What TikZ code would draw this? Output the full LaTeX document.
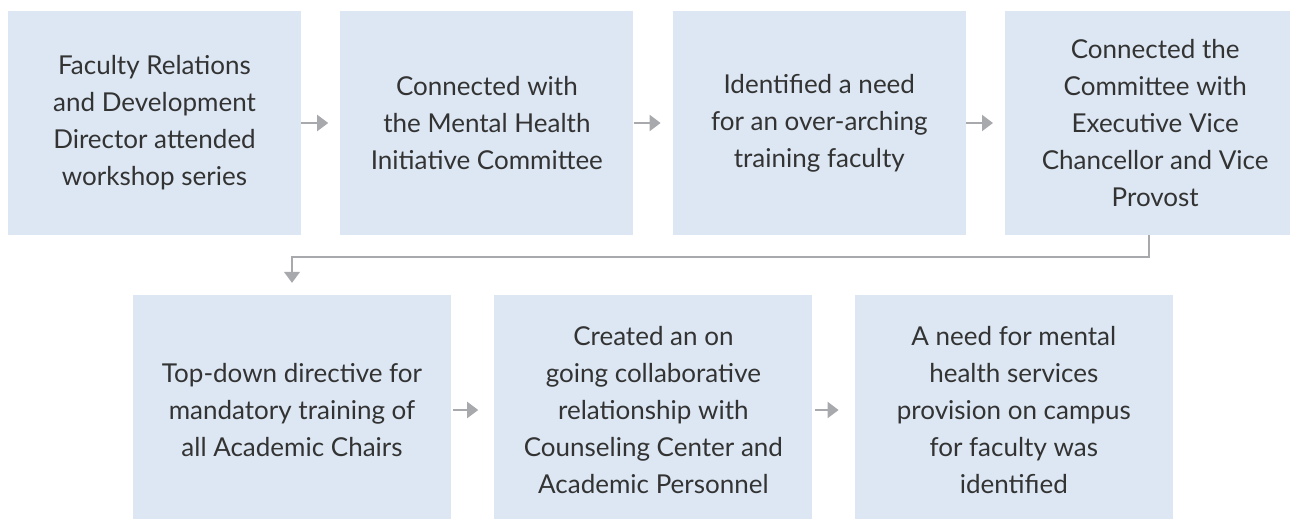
\documentclass[tikz,border=0pt]{standalone}
\usepackage{fontspec}
\setmainfont{Lato}
\usetikzlibrary{positioning,arrows.meta}
\definecolor{boxblue}{HTML}{DCE7F3}
\definecolor{arrowgray}{HTML}{A7A9AC}
\definecolor{textgray}{HTML}{333333}
\tikzset{
	stepbox/.style={
			rectangle, fill=boxblue, text=textgray, align=center, inner sep=0pt,
			minimum width=293pt, minimum height=224pt,
			font=\fontsize{26}{37}\selectfont
		},
	widebox/.style={stepbox, minimum width=318pt, minimum height=230pt},
	flow/.style={draw=arrowgray, line width=2pt, -{Triangle[length=11pt,width=16pt]}}
}

\begin{document}
\begin{tikzpicture}[x=1pt,y=-1pt]
			\useasboundingbox (0,0) rectangle (1290,519);

			\node[stepbox] (s1) at (154.5,123) {Faculty Relations\\and Development\\Director attended\\workshop series};
			\node[stepbox, right=39pt of s1] (s2) {Connected with\\the Mental Health\\Initiative Committee};
			\node[stepbox, right=39pt of s2] (s3) {Identified a need\\for an over-arching\\training faculty};
			\node[stepbox, right=39pt of s3, minimum width=300pt] (s4) {Connected the\\Committee with\\Executive Vice\\Chancellor and Vice\\Provost};

			\node[widebox] (s5) at (292,410) {Top-down directive for\\mandatory training of\\all Academic Chairs};
			\node[widebox, right=43pt of s5] (s6) {Created an on\\going collaborative\\relationship with\\Counseling Center and\\Academic Personnel};
			\node[widebox, right=42pt of s6] (s7) {A need for mental\\health services\\provision on campus\\for faculty was\\identified};

			\draw[flow] (s1.east) -- ([xshift=-12pt]s2.west);
			\draw[flow] (s2.east) -- ([xshift=-12pt]s3.west);
			\draw[flow] (s3.east) -- ([xshift=-12pt]s4.west);
			\draw[flow, line width=1.5pt] ([xshift=-6pt]s4.south) -- ++(0,22) -| ([yshift=12pt]s5.north);
			\draw[flow] ([xshift=2pt]s5.east) -- ([xshift=-16pt]s6.west);
			\draw[flow] ([xshift=2pt]s6.east) -- ([xshift=-16pt]s7.west);
		\end{tikzpicture}
\end{document}
